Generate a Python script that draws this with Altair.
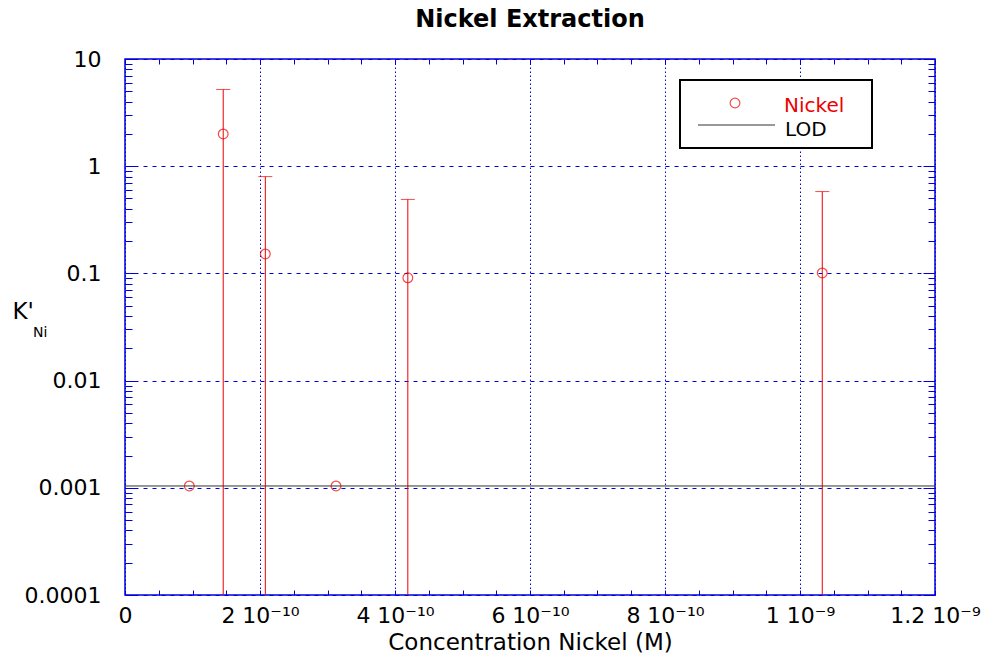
import math
import altair as alt
import pandas as pd

# ---------------- data ----------------
conc = [0.953e-10, 1.455e-10, 2.079e-10, 3.126e-10, 4.19e-10, 1.033e-9]
k_ni = [0.00104, 2.0, 0.152, 0.00104, 0.091, 0.101]

# error bars: upper ends; lower ends lie below the axis (clipped)
err_conc = [1.455e-10, 2.079e-10, 4.19e-10, 1.033e-9]
err_hi = [5.2, 0.80, 0.49, 0.58]
err_lo = [1e-6, 1e-6, 1e-6, 1e-6]

lod_value = [0.00104]

# ---------------- ticks ----------------
x_major = [0, 2e-10, 4e-10, 6e-10, 8e-10, 1e-9, 1.2e-9]
x_labels = ["0", "2 10⁻¹⁰", "4 10⁻¹⁰", "6 10⁻¹⁰", "8 10⁻¹⁰", "1 10⁻⁹", "1.2 10⁻⁹"]
x_all_ticks = [0, 5e-11, 1e-10, 1.5e-10, 2e-10, 2.5e-10, 3e-10, 3.5e-10, 4e-10,
               4.5e-10, 5e-10, 5.5e-10, 6e-10, 6.5e-10, 7e-10, 7.5e-10, 8e-10,
               8.5e-10, 9e-10, 9.5e-10, 1e-9, 1.05e-9, 1.1e-9, 1.15e-9, 1.2e-9]
y_major = [1e-4, 1e-3, 1e-2, 1e-1, 1, 10]
y_labels = ["0.0001", "0.001", "0.01", "0.1", "1", "10"]
y_minor = [m * 10.0 ** e for e in range(-4, 1) for m in range(2, 10)]

RED = "#ee0000"
BLUE = "#0000dd"
FONT = "DejaVu Sans"

x_expr = "".join(
    f"round(datum.value*1e11)=={round(v * 1e11)}?'{lab}':" for v, lab in zip(x_major, x_labels)
) + "''"
y_expr = "".join(
    f"round(log(datum.value)/LN10)=={round(math.log10(v))}?'{lab}':" for v, lab in zip(y_major, y_labels)
) + "''"

df_pts = pd.DataFrame({"conc": conc, "k": k_ni})
df_err = pd.DataFrame({"conc": err_conc, "lo": err_lo, "hi": err_hi})
df_lod = pd.DataFrame({"lod": lod_value})
one = pd.DataFrame({"a": [0]})

xs = alt.Scale(domain=[0, 1.2e-9], nice=False, zero=False)
ys = alt.Scale(type="log", domain=[1e-4, 10], nice=False)

# axes
axis_a = alt.Axis(orient="bottom", values=x_all_ticks, labelExpr=x_expr, labelOverlap=False,
                  labelFlush=False, tickSize=alt.ExprRef(expr="-5"), labelPadding=32,
                  labelBaseline="alphabetic", labelFontSize=22, grid=False,
                  title="Concentration Nickel (M)", titleY=54, titleBaseline="alphabetic",
                  titleFontSize=23, titleFontWeight="normal")
axis_b = alt.Axis(orient="top", values=x_all_ticks, tickSize=alt.ExprRef(expr="-5"),
                  labels=False, grid=False, title=None)
axis_c = alt.Axis(orient="bottom", values=x_major, grid=True, gridColor=BLUE,
                  gridDash=[1.5, 2.5], gridWidth=1, ticks=False, labels=False, title=None)
axis_1 = alt.Axis(orient="left", values=y_major, labelExpr=y_expr, labelOverlap=False,
                  tickSize=alt.ExprRef(expr="-12"), labelPadding=36, labelFontSize=22,
                  grid=True, gridColor=BLUE, gridDash=[4, 5], gridWidth=1,
                  title="K'", titleAngle=0, titleX=-113, titleY=259, titleAlign="left",
                  titleBaseline="alphabetic", titleFontSize=23, titleFontWeight="normal")
axis_2 = alt.Axis(orient="right", values=y_major, tickSize=alt.ExprRef(expr="-12"),
                  labels=False, grid=False, title=None)
axis_3 = alt.Axis(orient="left", values=y_minor, tickSize=alt.ExprRef(expr="-7"),
                  labels=False, grid=False, title=None)
axis_4 = alt.Axis(orient="right", values=y_minor, tickSize=alt.ExprRef(expr="-7"),
                  labels=False, grid=False, title=None)

errbars = alt.Chart(df_err).mark_rule(color=RED, stroke=RED, strokeWidth=1, clip=True).encode(
    x=alt.X("conc:Q", scale=xs, axis=axis_a),
    y=alt.Y("lo:Q", scale=ys, axis=axis_1),
    y2="hi:Q",
)
caps = alt.Chart(df_err).mark_tick(color=RED, size=14, thickness=1, orient="horizontal").encode(
    x=alt.X("conc:Q", scale=xs, axis=axis_b),
    y=alt.Y("hi:Q", scale=ys, axis=axis_2),
)
points = alt.Chart(df_pts).mark_point(shape="circle", filled=False, color=RED, size=95,
                                      strokeWidth=1.2).encode(
    x=alt.X("conc:Q", scale=xs, axis=axis_c),
    y=alt.Y("k:Q", scale=ys, axis=axis_3),
)
lod = alt.Chart(df_lod).mark_rule(color="#333333", strokeWidth=1).encode(
    y=alt.Y("lod:Q", scale=ys, axis=axis_4),
)

# chart title
title_txt = alt.Chart(one).mark_text(font=FONT, fontSize=24, fontWeight="bold", color="black",
                                     align="center", baseline="alphabetic").encode(
    x=alt.value(405), y=alt.value(-32), text=alt.value("Nickel Extraction"))

# legend (drawn box)
leg_box = alt.Chart(one).mark_rect(fill="white", stroke="black", strokeWidth=2).encode(
    x=alt.value(555), x2=alt.value(747), y=alt.value(21), y2=alt.value(89))
leg_pt = alt.Chart(one).mark_point(shape="circle", filled=False, color=RED, size=95,
                                   strokeWidth=1.2).encode(x=alt.value(610), y=alt.value(44))
leg_line = alt.Chart(one).mark_rule(color="#333333", strokeWidth=1).encode(
    x=alt.value(573), x2=alt.value(650), y=alt.value(66))
leg_t1 = alt.Chart(one).mark_text(font=FONT, fontSize=20, color=RED, align="left",
                                  baseline="alphabetic").encode(
    x=alt.value(659), y=alt.value(53), text=alt.value("Nickel"))
leg_t2 = alt.Chart(one).mark_text(font=FONT, fontSize=20, color="black", align="left",
                                  baseline="alphabetic").encode(
    x=alt.value(660), y=alt.value(77), text=alt.value("LOD"))
ni_sub = alt.Chart(one).mark_text(font=FONT, fontSize=14, color="black", align="left",
                                  baseline="alphabetic").encode(
    x=alt.value(-92), y=alt.value(278), text=alt.value("Ni"))

chart = alt.layer(
    errbars, caps, points, lod, title_txt, leg_box, leg_pt, leg_line, leg_t1, leg_t2, ni_sub
).resolve_axis(
    x="independent", y="independent"
).properties(
    width=810,
    height=536,
    padding={"left": 125, "top": 59, "right": 48, "bottom": 62},
    autosize=alt.AutoSizeParams(type="none"),
).configure_view(
    stroke=BLUE, strokeWidth=1.5
).configure_axis(
    domain=False, tickColor=BLUE, tickWidth=1, labelFont=FONT, titleFont=FONT,
    labelColor="black", titleColor="black"
)

chart.save("out.html", embed_options={"renderer": "svg", "actions": False})
